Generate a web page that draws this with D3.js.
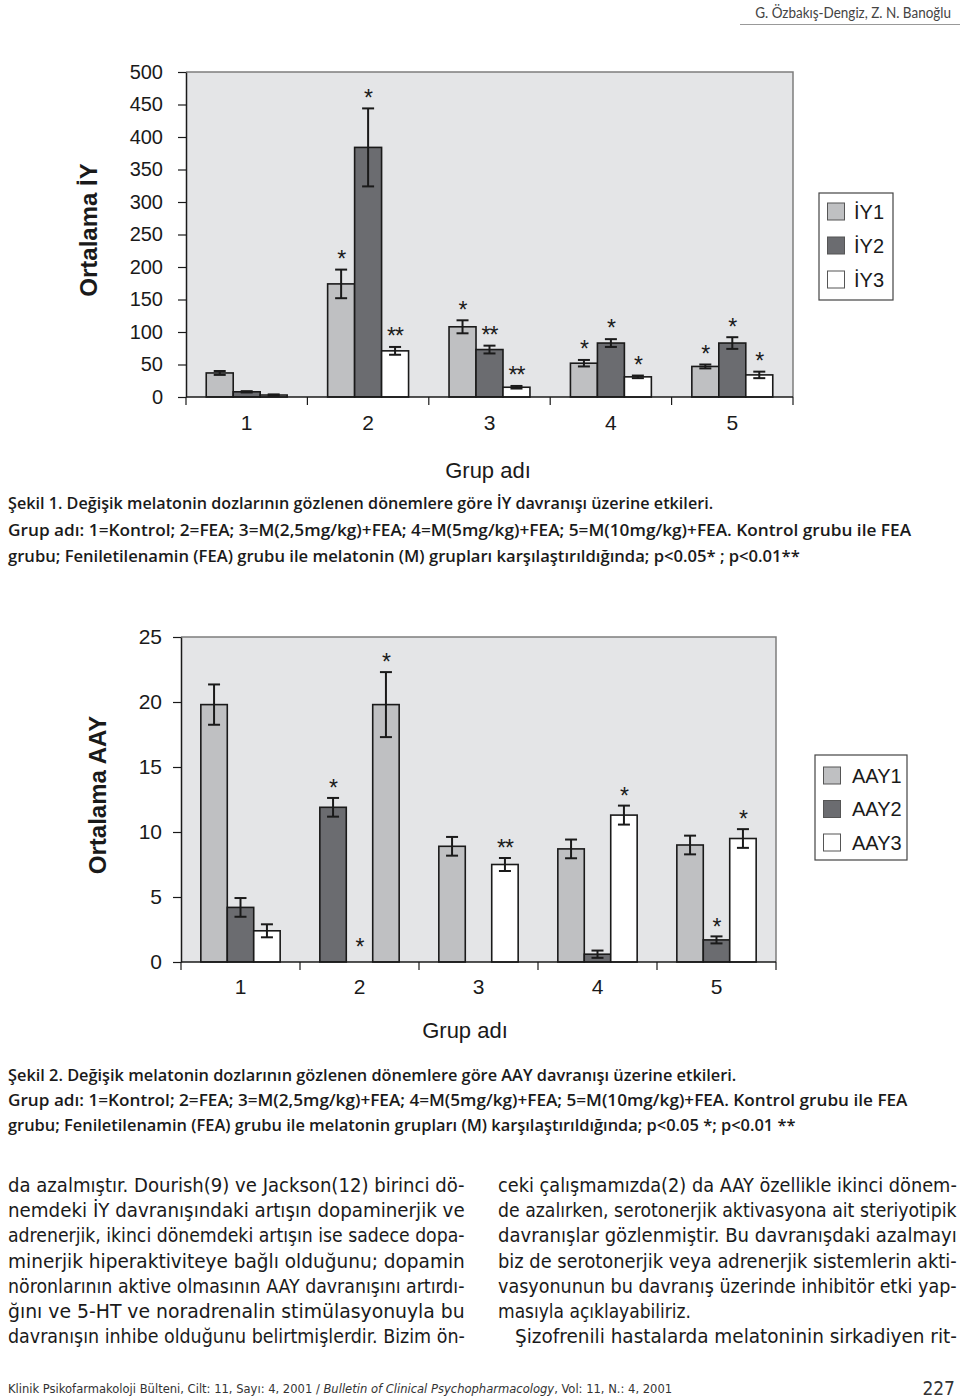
<!DOCTYPE html>
<html><head><meta charset="utf-8">
<script src="https://cdn.jsdelivr.net/npm/d3@7"></script>
<style>body{margin:0;background:#fff}svg{display:block}</style>
</head><body>
<script>
// ---------- DATA ----------
const groups = ["1", "2", "3", "4", "5"];

const iyNames = ["İY1", "İY2", "İY3"];
const iy1 = [37, 174, 108, 52, 47];
const iy2 = [8, 384, 73, 83, 83];
const iy3 = [3, 71, 15, 31, 34];
const iy1Err = [3, 22, 10, 5, 3];
const iy2Err = [1, 60, 6, 6, 9];
const iy3Err = [1, 6, 2, 2, 5];
const iy1Sig = ["", "*", "*", "*", "*"];
const iy2Sig = ["", "*", "**", "*", "*"];
const iy3Sig = ["", "**", "**", "*", "*"];
const iyTicks = [0, 50, 100, 150, 200, 250, 300, 350, 400, 450, 500];

const aayNames = ["AAY1", "AAY2", "AAY3"];
const aay1 = [19.8, 11.9, 8.9, 8.7, 9.0];
const aay2 = [4.2, 0, 0, 0.6, 1.7];
const aay3 = [2.4, 19.8, 7.5, 11.3, 9.5];
const aay1Err = [1.55, 0.72, 0.72, 0.72, 0.72];
const aay2Err = [0.72, 0, 0, 0.28, 0.27];
const aay3Err = [0.5, 2.5, 0.5, 0.73, 0.72];
const aay1Sig = ["", "*", "", "", ""];
const aay2Sig = ["", "*", "", "", "*"];
const aay3Sig = ["", "*", "**", "*", "*"];
const aayTicks = [0, 5, 10, 15, 20, 25];

const headerText = "G. Özbakış-Dengiz, Z. N. Banoğlu";
const caption1 = [
  "Şekil 1. Değişik melatonin dozlarının gözlenen dönemlere göre İY davranışı üzerine etkileri.",
  "Grup adı: 1=Kontrol; 2=FEA; 3=M(2,5mg/kg)+FEA; 4=M(5mg/kg)+FEA; 5=M(10mg/kg)+FEA. Kontrol grubu ile FEA",
  "grubu; Feniletilenamin (FEA) grubu ile melatonin (M) grupları karşılaştırıldığında;  p<0.05* ; p<0.01**"
];
const caption2 = [
  "Şekil 2. Değişik melatonin dozlarının gözlenen dönemlere göre AAY davranışı üzerine etkileri.",
  "Grup adı: 1=Kontrol; 2=FEA; 3=M(2,5mg/kg)+FEA; 4=M(5mg/kg)+FEA; 5=M(10mg/kg)+FEA. Kontrol grubu ile FEA",
  "grubu; Feniletilenamin (FEA)  grubu ile melatonin grupları (M) karşılaştırıldığında; p<0.05 *; p<0.01 **"
];
const leftColumn = [
  "da azalmıştır. Dourish(9) ve Jackson(12) birinci dö-",
  "nemdeki İY davranışındaki artışın dopaminerjik ve",
  "adrenerjik, ikinci dönemdeki artışın ise sadece dopa-",
  "minerjik hiperaktiviteye bağlı olduğunu; dopamin",
  "nöronlarının aktive olmasının AAY davranışını artırdı-",
  "ğını ve 5-HT ve noradrenalin stimülasyonuyla bu",
  "davranışın inhibe olduğunu belirtmişlerdir. Bizim ön-"
];
const rightColumn = [
  "ceki çalışmamızda(2) da AAY özellikle ikinci dönem-",
  "de azalırken, serotonerjik aktivasyona ait steriyotipik",
  "davranışlar gözlenmiştir. Bu davranışdaki azalmayı",
  "biz de serotonerjik veya adrenerjik sistemlerin akti-",
  "vasyonunun bu davranış üzerinde inhibitör etki yap-",
  "masıyla açıklayabiliriz.",
  "Şizofrenili hastalarda melatoninin sirkadiyen rit-"
];
const footerParts = ["Klinik Psikofarmakoloji Bülteni, Cilt: 11, Sayı: 4, 2001 / ",
  "Bulletin of Clinical Psychopharmacology", ", Vol: 11, N.: 4, 2001"];
const pageNumber = "227";

// ---------- DRAWING ----------
const W = 960, H = 1399;
const svg = d3.select("body").append("svg").attr("width", W).attr("height", H);
svg.append("rect").attr("width", W).attr("height", H).attr("fill", "#fff");

const FONT = "'Liberation Sans', Arial, sans-serif";
const NARROW = "'Liberation Sans Narrow', 'DejaVu Sans Condensed', 'Roboto', sans-serif";
const CAPFONT = "'Open Sans', 'Noto Sans', sans-serif";
const fills = ["#bfc0c2", "#6b6c70", "#ffffff"];
const PLOTBG = "#e4e5e7";
const STAR = 23;

// scale a text element horizontally so that it spans exactly `target` px
function fit(sel, x, y, target, anchor) {
  sel.attr("x", 0).attr("y", 0).attr("text-anchor", anchor || "start");
  const n = sel.node().getComputedTextLength();
  const s = target / n;
  sel.attr("transform", `translate(${x},${y}) scale(${s},1)`);
  return sel;
}

// header
fit(svg.append("text").attr("font-family", "Lato, 'Open Sans', sans-serif")
  .attr("font-size", 15).attr("fill", "#444").text(headerText), 951, 18, 196, "end");
svg.append("line").attr("x1", 740).attr("x2", 960).attr("y1", 24.5).attr("y2", 24.5)
  .attr("stroke", "#999").attr("stroke-width", 1);

function drawChart(o) {
  const g = svg.append("g");
  const x0 = d3.scaleBand().domain(groups).range([o.left, o.right]);
  const bw = x0.bandwidth();
  const x1 = d3.scaleBand().domain([0, 1, 2]).range([bw / 6, bw * 5 / 6]);
  const y = d3.scaleLinear().domain([0, o.max]).range([o.bottom, o.top]);

  g.append("rect").attr("x", o.left).attr("y", o.top)
    .attr("width", o.right - o.left).attr("height", o.bottom - o.top).attr("fill", PLOTBG);
  g.append("path").attr("d", `M${o.left},${o.top}H${o.right}V${o.bottom}`)
    .attr("fill", "none").attr("stroke", "#7d7d7d").attr("stroke-width", 1.5);

  // bars
  o.series.forEach((s, si) => {
    s.values.forEach((v, gi) => {
      const bx = x0(groups[gi]) + x1(si);
      const w = x1.bandwidth();
      const cx = bx + w / 2;
      const key = gi + "-" + si;
      const fill = (o.fillOverride && o.fillOverride[key]) || fills[si];
      if (v > 0) {
        g.append("rect").attr("x", bx).attr("y", y(v)).attr("width", w)
          .attr("height", y(0) - y(v)).attr("fill", fill)
          .attr("stroke", "#1a1a1a").attr("stroke-width", 1.6);
      }
      const e = s.err[gi];
      if (e > 0) {
        const eg = g.append("g").attr("stroke", "#1a1a1a").attr("stroke-width", 2);
        eg.append("line").attr("x1", cx).attr("x2", cx).attr("y1", y(v + e)).attr("y2", y(v - e));
        eg.append("line").attr("x1", cx - 6).attr("x2", cx + 6).attr("y1", y(v + e)).attr("y2", y(v + e));
        eg.append("line").attr("x1", cx - 6).attr("x2", cx + 6).attr("y1", y(v - e)).attr("y2", y(v - e));
      }
      const sig = s.sig[gi];
      if (sig) {
        const center = y(v + e) - (e > 0 ? o.starGap : o.starGap + 5);
        g.append("text").attr("x", cx).attr("y", center + 0.58 * STAR)
          .attr("text-anchor", "middle").attr("font-family", FONT).attr("font-size", STAR)
          .attr("letter-spacing", "-1").attr("fill", "#1a1a1a").text(sig);
      }
    });
  });

  // y axis
  const ya = g.append("g").attr("transform", `translate(${o.left},0)`)
    .call(d3.axisLeft(y).tickValues(o.ticks).tickSize(8).tickSizeOuter(0).tickPadding(o.pad));
  ya.select(".domain").attr("stroke", "#1a1a1a").attr("stroke-width", 1.5);
  ya.selectAll(".tick line").attr("stroke", "#1a1a1a").attr("stroke-width", 1.2);
  ya.selectAll(".tick text").attr("font-family", FONT).attr("font-size", o.tickFont).attr("fill", "#1a1a1a");

  // x axis
  g.append("line").attr("x1", o.left).attr("x2", o.right).attr("y1", o.bottom).attr("y2", o.bottom)
    .attr("stroke", "#1a1a1a").attr("stroke-width", 1.5);
  const bounds = groups.map(d => x0(d)).concat([o.right]);
  g.selectAll(".xt").data(bounds).enter().append("line")
    .attr("x1", d => d).attr("x2", d => d).attr("y1", o.bottom).attr("y2", o.bottom + 8)
    .attr("stroke", "#1a1a1a").attr("stroke-width", 1.2);
  g.selectAll(".xl").data(groups).enter().append("text")
    .attr("x", d => x0(d) + bw / 2).attr("y", o.xLabelY).attr("text-anchor", "middle")
    .attr("font-family", FONT).attr("font-size", 21).attr("fill", "#1a1a1a").text(d => d);

  // axis titles
  g.append("text").attr("transform", `translate(${o.yTitleX},${o.yTitleY}) rotate(-90)`)
    .attr("text-anchor", "middle").attr("font-family", FONT).attr("font-weight", "bold")
    .attr("font-size", 24).attr("fill", "#1a1a1a").text(o.yTitle);
  g.append("text").attr("x", o.xTitleX).attr("y", o.xTitleY).attr("text-anchor", "middle")
    .attr("font-family", FONT).attr("font-size", 22).attr("fill", "#1a1a1a").text("Grup adı");

  // legend
  const L = o.legend;
  g.append("rect").attr("x", L.x).attr("y", L.y).attr("width", L.w).attr("height", L.h)
    .attr("fill", "#fff").attr("stroke", "#444").attr("stroke-width", 1.2);
  o.names.forEach((n, i) => {
    const sy = L.y + L.first + i * L.step;
    g.append("rect").attr("x", L.x + 8.5).attr("y", sy).attr("width", 17).attr("height", 17)
      .attr("fill", fills[i]).attr("stroke", "#555").attr("stroke-width", 1);
    g.append("text").attr("x", L.x + L.textDx).attr("y", sy + 15.5)
      .attr("font-family", FONT).attr("font-size", 20).attr("fill", "#1a1a1a").text(n);
  });
}

drawChart({
  left: 186, right: 793, top: 72, bottom: 397, max: 500, ticks: iyTicks, pad: 15, tickFont: 20,
  series: [
    { values: iy1, err: iy1Err, sig: iy1Sig },
    { values: iy2, err: iy2Err, sig: iy2Sig },
    { values: iy3, err: iy3Err, sig: iy3Sig }
  ],
  names: iyNames, starGap: 16, xLabelY: 430,
  yTitle: "Ortalama İY", yTitleX: 97, yTitleY: 230,
  xTitleX: 488, xTitleY: 478,
  legend: { x: 819, y: 193, w: 74, h: 107, first: 10, step: 34, textDx: 35 }
});

drawChart({
  left: 181, right: 776, top: 637, bottom: 962, max: 25, ticks: aayTicks, pad: 11, tickFont: 21,
  series: [
    { values: aay1, err: aay1Err, sig: aay1Sig },
    { values: aay2, err: aay2Err, sig: aay2Sig },
    { values: aay3, err: aay3Err, sig: aay3Sig }
  ],
  fillOverride: { "1-0": fills[1], "1-2": fills[0] },
  names: aayNames, starGap: 15, xLabelY: 994,
  yTitle: "Ortalama AAY", yTitleX: 106, yTitleY: 795,
  xTitleX: 465, xTitleY: 1038,
  legend: { x: 815, y: 755, w: 92, h: 105, first: 12, step: 33.5, textDx: 37 }
});

// captions
function caption(lines, ys, widths) {
  lines.forEach((t, i) => {
    fit(svg.append("text").attr("font-family", CAPFONT).attr("font-weight", 600)
      .attr("font-size", 16.5).attr("fill", "#1a1a1a").text(t), 8, ys[i], widths[i]);
  });
}
caption(caption1, [509, 536, 562], [706, 904, 792]);
caption(caption2, [1081, 1106, 1131], [729, 900, 788]);

// body text (each line scaled to the column width, as justified)
function column(lines, x0, x1, widths, indents) {
  lines.forEach((t, i) => {
    const x = x0 + (indents[i] || 0);
    const el = svg.append("text").attr("font-family", NARROW).attr("font-size", 20)
      .attr("fill", "#1a1a1a").text(t);
    fit(el, x, 1192 + i * 25.2, widths[i] || (x1 - x));
  });
}
column(leftColumn, 8, 465, [], []);
column(rightColumn, 498, 957, [0, 0, 0, 0, 0, 193, 0], [0, 0, 0, 0, 0, 0, 17]);

// footer
const ft = svg.append("text").attr("font-family", NARROW).attr("font-size", 13).attr("fill", "#333");
ft.append("tspan").text(footerParts[0]);
ft.append("tspan").attr("font-style", "italic").text(footerParts[1]);
ft.append("tspan").text(footerParts[2]);
fit(ft, 8, 1393, 665);
svg.append("text").attr("x", 955).attr("y", 1395).attr("text-anchor", "end")
  .attr("font-family", NARROW).attr("font-size", 19).attr("fill", "#333").text(pageNumber);
</script>
</body></html>
